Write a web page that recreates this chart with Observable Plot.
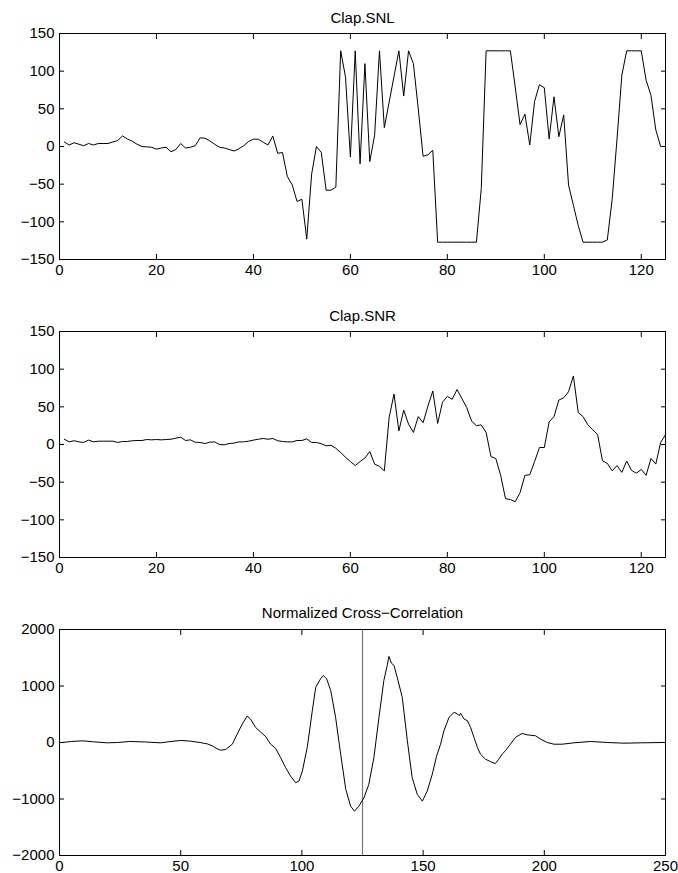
<!DOCTYPE html>
<html>
<head>
<meta charset="utf-8">
<script src="https://cdn.jsdelivr.net/npm/d3@7"></script>
<script src="https://cdn.jsdelivr.net/npm/@observablehq/plot@0.6"></script>
<style>
  html, body { margin: 0; padding: 0; background: #fff; }
  #wrap { position: relative; width: 678px; height: 873px; background: #fff; }
  .panel { position: absolute; left: 0; }
</style>
</head>
<body>
<div id="wrap">
  <div class="panel" id="p1" style="top:0px"></div>
  <div class="panel" id="p2" style="top:298px"></div>
  <div class="panel" id="p3" style="top:596px"></div>
</div>
<script>
// ---- Data ----
const titles = ["Clap.SNL", "Clap.SNR", "Normalized Cross\u2212Correlation"];

const snlValues = [6,2,5,3,1,4,2,4,4,4,6,8,14,10,7,3,0,-0.5,-1,-3.5,
  -2,-1,-7,-4,4,-2,-1,1,11.5,11,7.5,3,-1,-2,-4,-6,-3,1,6.6,9.7,
  9.7,5.8,2,14,-9,-8,-40,-51,-73,-70,-123,-37,0,-8,-58,-58,-54,127,92,-14,
  127,-23,110,-20,15,127,25,59,93,127,67,127,110,50,-13,-11,-5,-127,-127,-127,
  -127,-127,-127,-127,-127,-127,-56,127,127,127,127,127,127,79,29,43,2,60,82,78,
  10,66,13,42,-51,-78,-105,-127,-127,-127,-127,-127,-124,-70,10,95,127,127,127,127,
  88,68,22,0,0];

const snrValues = [7,3.5,5,3.5,2.7,5.8,3.5,4.4,4.4,4.4,4.4,2.7,4,4,5,5.3,5.3,6.6,6.2,6.6,
  6.2,6.6,7,8.4,9.7,5.3,6.2,3,2.7,1.3,3,3.5,0,-0.4,1.3,1.8,3.5,3.5,4.4,5.8,
  7,8,7,8,5,4,3.5,3.5,5.3,5.3,7.5,2.7,2.7,1,-1.8,-1,-5,-10.6,-17,-22.6,
  -28,-22.6,-18,-9.3,-26,-29,-35,36,67,18,45.6,27,16,37,29,51,71,28,56,64,
  60,73,61,49,31,25,26,16,-16,-18.6,-41,-72,-73,-76,-64,-41,-40,-22.6,-4,-4,
  30,37,59,62,70,91,42.5,37,26,19.5,13,-21.7,-25,-35,-28,-37,-22,-34.5,-38,-33,
  -41,-18.6,-26,2.7,13];

const xcLag = [1,5,9.4,14,19.7,24,29,35,41.7,46,50,54,58,61,63,65,66.4,68.5,71.3,73.3,
  75.4,77.4,78.8,80.9,83,85,87.1,89.1,91.2,93.3,95.3,97.4,98.8,100.2,102.2,104.3,105.7,107.7,108.8,110.2,
  111.9,113.9,116,118.1,120.1,121.7,123.5,125.6,127.6,129.7,131.8,133.8,135.2,135.9,136.9,138,139.3,141.4,143.5,145.5,
  147.6,149.7,151.7,153.8,155.5,157.2,158.6,160.7,162.8,164.2,164.9,165.5,166.9,168.3,169.6,171,172.4,173.7,175.8,177.8,
  179.8,181.2,182.6,183.9,186,188.1,190.8,192.9,196.4,198.5,201.2,204,207.4,212.2,219.1,226,232.9,239.8,249];
const xcValues = [0,18,30,12,-6,0,18,10,-6,18,36,24,0,-25,-59,-110,-136,-125,-30,148,
  326,468,415,267,184,107,-30,-100,-267,-445,-593,-712,-682,-504,-89,563,978,1127,1186,1127,
  919,445,-208,-830,-1127,-1216,-1127,-978,-741,-267,445,1097,1364,1524,1405,1364,1156,800,30,-623,
  -919,-1038,-860,-560,-250,-30,208,445,534,504,474,516,415,385,267,89,-89,-208,-297,-338,
  -374,-297,-208,-148,-30,89,160,136,119,59,0,-30,-30,-6,18,0,-12,-6,0];

const centerLag = [125];

const xTicksSignal = [0,20,40,60,80,100,120];
const yTicksSignal = [-150,-100,-50,0,50,100,150];
const xTicksCorr = [0,50,100,150,200,250];
const yTicksCorr = [-2000,-1000,0,1000,2000];

// ---- Drawing ----
const fmt = d => d < 0 ? "\u2212" + Math.abs(d) : String(d);
const FONT = "'Liberation Sans', Arial, Helvetica, sans-serif";

function panel({data, xDomain, yDomain, xTicks, yTicks, title, titleDy, height, marginBottom, extra = []}) {
  return Plot.plot({
    width: 678,
    height,
    marginLeft: 59,
    marginRight: 13,
    marginTop: 33,
    marginBottom,
    style: {fontFamily: FONT, fontSize: "15px", background: "white", color: "black", overflow: "visible"},
    x: {type: "linear", domain: xDomain, nice: false},
    y: {type: "linear", domain: yDomain, nice: false},
    marks: [
      ...extra,
      Plot.line(data, {x: "x", y: "y", stroke: "black", strokeWidth: 1}),
      Plot.frame({stroke: "black", strokeWidth: 1}),
      Plot.axisX(xTicks, {anchor: "bottom", tickSize: 0, tickPadding: 4.5, label: null, tickFormat: fmt}),
      Plot.axisX(xTicks, {anchor: "bottom", tickSize: 5, dy: -5, fill: "none", label: null}),
      Plot.axisX(xTicks, {anchor: "top", tickSize: 5, dy: 5, fill: "none", label: null}),
      Plot.axisY(yTicks, {anchor: "left", tickSize: 0, tickPadding: 5, label: null, tickFormat: fmt}),
      Plot.axisY(yTicks, {anchor: "left", tickSize: 5, dx: 5, fill: "none", label: null}),
      Plot.axisY(yTicks, {anchor: "right", tickSize: 5, dx: -5, fill: "none", label: null}),
      Plot.text([title], {text: d => d, frameAnchor: "top", dy: titleDy, lineAnchor: "middle", fontSize: 15, fill: "black"})
    ]
  });
}

const snlData = snlValues.map((v, i) => ({x: i + 1, y: v}));
const snrData = snrValues.map((v, i) => ({x: i + 1, y: v}));
const xcData = xcLag.map((l, i) => ({x: l, y: xcValues[i]}));

document.getElementById("p1").appendChild(panel({
  data: snlData, xDomain: [0, 125], yDomain: [-150, 150],
  xTicks: xTicksSignal, yTicks: yTicksSignal, title: titles[0], titleDy: -15,
  height: 298, marginBottom: 39
}));
document.getElementById("p2").appendChild(panel({
  data: snrData, xDomain: [0, 125], yDomain: [-150, 150],
  xTicks: xTicksSignal, yTicks: yTicksSignal, title: titles[1], titleDy: -15,
  height: 298, marginBottom: 39
}));
document.getElementById("p3").appendChild(panel({
  data: xcData, xDomain: [0, 250], yDomain: [-2000, 2000],
  xTicks: xTicksCorr, yTicks: yTicksCorr, title: titles[2], titleDy: -16,
  height: 277, marginBottom: 18,
  extra: [Plot.ruleX(centerLag, {stroke: "#7a7a7a", strokeWidth: 1.2})]
}));
</script>
</body>
</html>
